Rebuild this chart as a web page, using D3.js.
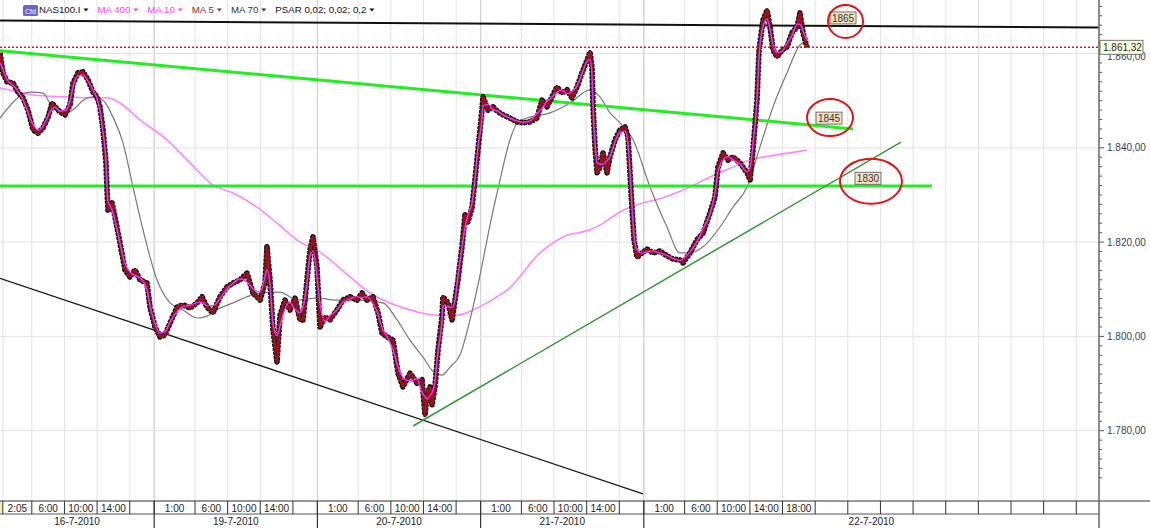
<!DOCTYPE html>
<html><head><meta charset="utf-8">
<script src="https://cdn.jsdelivr.net/npm/d3@7"></script>
<style>body{margin:0;background:#fff}svg{display:block}text{font-family:"Liberation Sans",Arial,sans-serif}</style>
</head><body><svg id="c" width="1150" height="528"></svg>
<script>
// ---------- DATA (hours counted in trading hours from 16-7-2010 01:00, 20 trading hours per day) ----------
const priceHours = [1.10,1.47,1.96,2.70,3.31,3.92,4.53,5.15,5.76,6.37,6.99,7.48,7.84,8.46,9.07,9.68,10.05,10.66,11.28,11.89,12.50,12.99,13.36,13.73,14.09,14.22,14.34,14.83,15.20,15.81,16.42,17.03,17.65,18.26,19.12,19.49,20.10,20.71,21.32,21.94,22.80,23.53,24.39,25.25,25.86,26.47,27.21,28.06,28.92,29.66,30.51,31.37,32.11,32.97,33.58,33.82,34.19,34.56,35.05,35.42,36.03,36.64,37.26,37.87,38.24,38.73,39.09,39.46,39.95,40.32,40.93,41.55,42.40,43.14,43.99,44.85,45.47,46.08,46.81,47.43,47.92,48.53,49.27,49.88,50.49,51.35,52.21,52.82,53.19,53.43,53.80,54.05,54.41,54.78,55.27,55.39,56.01,56.50,56.86,57.23,57.72,58.09,58.46,58.95,59.31,59.68,60.17,60.30,60.91,61.52,62.13,62.75,63.60,64.46,65.20,66.06,66.91,67.53,68.14,68.75,69.36,69.98,70.59,71.20,71.82,72.43,73.04,73.41,73.65,73.78,74.02,74.27,74.63,75.00,75.49,75.86,76.47,77.08,77.70,78.07,78.31,78.55,78.80,79.17,79.78,80.39,81.13,81.99,82.84,83.58,84.44,84.81,85.66,86.52,87.26,88.11,88.73,89.09,89.71,90.32,90.93,91.79,92.65,93.02,93.38,93.87,94.12,94.61,95.10,95.47,95.84,96.33,96.94,97.55,98.16,98.78,99.14,99.51,100.00];
const priceClose = [1860.1,1855.9,1854.0,1853.7,1851.8,1850.6,1848.0,1843.8,1843.1,1844.2,1846.5,1849.5,1848.7,1847.6,1847.0,1849.1,1853.7,1855.9,1856.1,1854.4,1851.8,1850.8,1848.7,1843.8,1836.8,1831.1,1826.8,1828.3,1825.3,1819.8,1814.1,1812.6,1814.1,1812.0,1811.3,1806.2,1802.0,1799.9,1800.3,1802.8,1806.2,1806.7,1806.0,1807.1,1808.4,1806.2,1805.0,1808.4,1810.5,1811.3,1812.0,1813.4,1809.2,1807.7,1811.3,1819.0,1812.0,1801.4,1794.6,1804.5,1807.7,1805.6,1808.1,1803.5,1803.5,1812.0,1818.3,1821.1,1814.7,1802.0,1804.1,1803.5,1805.6,1807.7,1808.4,1807.7,1809.2,1807.7,1808.4,1805.0,1800.7,1799.9,1799.2,1792.2,1789.3,1792.2,1790.1,1790.8,1783.3,1787.6,1789.3,1785.5,1789.3,1797.1,1804.1,1808.4,1807.1,1803.5,1807.7,1812.0,1819.0,1825.8,1824.3,1827.4,1833.2,1839.5,1848.0,1850.8,1848.0,1848.7,1847.6,1847.0,1846.3,1845.5,1845.3,1845.5,1846.3,1850.1,1848.7,1850.8,1852.9,1851.6,1852.3,1850.6,1852.9,1855.9,1858.6,1860.3,1857.1,1848.7,1840.2,1834.7,1835.9,1838.9,1834.7,1838.1,1841.7,1843.8,1844.4,1842.3,1834.7,1827.4,1820.5,1816.8,1817.7,1818.5,1817.7,1818.1,1817.1,1816.4,1816.2,1815.6,1817.7,1820.5,1821.9,1826.2,1829.6,1835.9,1838.9,1837.4,1838.1,1836.8,1834.7,1833.2,1839.5,1850.1,1860.7,1867.1,1869.2,1865.6,1860.7,1859.3,1860.7,1861.4,1864.4,1865.6,1868.6,1864.4,1861.3];

const ma70Hours = [1.10,4.78,6.37,7.60,9.07,10.30,11.28,12.50,13.73,14.95,16.18,17.40,18.63,20.34,21.94,23.53,25.25,26.47,28.06,29.66,31.37,32.97,35.42,37.50,39.95,42.40,45.22,48.04,49.76,51.35,52.94,54.41,55.27,56.25,57.48,58.70,59.93,61.15,62.38,63.60,64.58,66.06,68.51,70.96,73.41,74.63,75.86,77.08,78.68,80.76,82.84,84.44,85.66,87.26,89.34,90.93,92.65,94.24,95.84,97.55,99.14,99.75];
const ma70Values = [1846.3,1851.8,1851.6,1848.4,1847.4,1848.4,1850.1,1850.8,1850.1,1846.5,1841.0,1831.7,1822.6,1812.0,1807.1,1805.6,1803.9,1804.3,1806.0,1807.1,1808.4,1809.2,1809.4,1807.7,1808.1,1807.7,1807.7,1807.1,1803.5,1799.2,1795.6,1792.2,1791.8,1793.5,1796.1,1803.5,1813.0,1823.6,1833.2,1841.7,1845.5,1846.5,1847.4,1849.5,1852.3,1850.8,1847.4,1845.3,1841.7,1831.7,1823.2,1817.7,1817.7,1819.0,1823.2,1827.4,1831.7,1840.2,1848.7,1855.9,1861.8,1862.4];

const ma400Hours = [1.10,3.55,5.15,9.32,12.13,14.22,15.81,18.26,21.57,24.39,27.21,29.66,32.60,35.05,37.87,39.95,44.00,46.45,48.90,52.21,54.66,57.11,59.56,62.38,63.24,67.28,70.10,73.41,74.63,77.08,79.17,82.35,85.66,88.11,90.93,93.02,96.33,100.00];
const ma400Values = [1852.7,1851.8,1851.2,1850.8,1850.6,1850.6,1849.5,1845.9,1841.7,1836.8,1832.1,1830.4,1827.4,1824.0,1820.0,1818.3,1812.6,1809.2,1807.1,1805.2,1804.5,1804.5,1806.0,1808.8,1809.8,1817.7,1821.1,1822.6,1823.6,1826.4,1827.9,1829.4,1831.7,1833.8,1835.9,1837.4,1838.5,1839.5];

const lastPrice = 1861.32;

const trendNames  = ["resistance","upperGreen","flatGreen","lowerBlack","riseGreen"];
const trendHour1  = [1.10, 1.10, 1.10, 1.10, 51.72];
const trendValue1 = [1867.0, 1860.6, 1831.9, 1812.3, 1781.0];
const trendHour2  = [135.8, 105.64, 115.3, 79.90, 111.52];
const trendValue2 = [1865.5, 1844.0, 1831.9, 1766.6, 1841.2];

const noteLabels = ["1865","1845","1830"];
const noteHours  = [104.72, 102.82, 107.84];
const noteValues = [1866.8, 1846.4, 1832.9];

const yTickValues = [1780, 1800, 1820, 1840, 1860];
const cellStartHours = [1.45,5,9,13,17, 20,25,29,33,37, 40,45,49,53,57, 60,65,69,73,77, 80,85,89,93,97,101,105,109,113,117,121,125,129,133];
const cellLabels = ["2:05","6:00","10:00","14:00","", "1:00","6:00","10:00","14:00","", "1:00","6:00","10:00","14:00","", "1:00","6:00","10:00","14:00","", "1:00","6:00","10:00","14:00","18:00","","","","","","","","",""];
const dayStartHours = [0, 20, 40, 60, 80];
const dayLabels = ["16-7-2010","19-7-2010","20-7-2010","21-7-2010","22-7-2010"];
const legendLabels = ["NAS100.I","MA 400","MA 10","MA 5","MA 70","PSAR 0,02; 0,02; 0,2"];

// ---------- LAYOUT / STYLE ----------
const W = 1150, H = 528, axisX = 1099, plotBottom = 501;
const svg = d3.select("#c");
const x = d3.scaleLinear().domain([0, 136]).range([-9, -9 + 136 * 8.16]);
const y = d3.scaleLinear().domain([1760, 1860]).range([53.5 + 100 * 4.715, 53.5]);
const loc = d3.formatLocale({decimal: ",", thousands: ".", grouping: [3], currency: ["", ""]});
const fmt = loc.format(",.2f");

svg.append("rect").attr("width", W).attr("height", H).attr("fill", "#fff");
svg.append("defs").append("clipPath").attr("id", "plot")
  .append("rect").attr("x", 0).attr("y", 0).attr("width", axisX).attr("height", plotBottom);

// grid
const grid = svg.append("g");
const endH = x.invert(axisX);
cellStartHours.concat(dayStartHours).forEach(h => {
  const px = x(h);
  if (px > 1 && px < axisX - 1) {
    grid.append("line").attr("x1", px).attr("x2", px).attr("y1", 0).attr("y2", plotBottom)
      .attr("stroke", dayStartHours.includes(h) ? "#d2d2d2" : "#e2e2e2").attr("stroke-width", 1);
  }
});
yTickValues.forEach(v => {
  grid.append("line").attr("x1", 0).attr("x2", axisX).attr("y1", y(v)).attr("y2", y(v))
    .attr("stroke", "#e2e2e2").attr("stroke-width", 1);
});

const plot = svg.append("g").attr("clip-path", "url(#plot)");

// MA400 and MA70
const smooth = d3.line().x(d => x(d[0])).y(d => y(d[1])).curve(d3.curveMonotoneX);
plot.append("path").datum(d3.zip(ma400Hours, ma400Values)).attr("d", smooth)
  .attr("fill", "none").attr("stroke", "#ff86ff").attr("stroke-width", 1.6);
plot.append("path").datum(d3.zip(ma70Hours, ma70Values)).attr("d", smooth)
  .attr("fill", "none").attr("stroke", "#7a7a7a").attr("stroke-width", 1.2);

// trend lines
const trendStyle = {
  resistance: {c: "#111", w: 2},
  upperGreen: {c: "#22ee22", w: 3},
  flatGreen: {c: "#22ee22", w: 3},
  lowerBlack: {c: "#1a1a1a", w: 1.3},
  riseGreen: {c: "#2f9a2f", w: 1.5}
};
trendNames.forEach((n, i) => {
  plot.append("line")
    .attr("x1", x(trendHour1[i])).attr("y1", y(trendValue1[i]))
    .attr("x2", x(trendHour2[i])).attr("y2", y(trendValue2[i]))
    .attr("stroke", trendStyle[n].c).attr("stroke-width", trendStyle[n].w);
});

// price band
const pts = d3.zip(priceHours, priceClose);
const lin = d3.line().x(d => x(d[0])).y(d => y(d[1]));
plot.append("path").datum(pts).attr("d", lin).attr("fill", "none")
  .attr("stroke", "#111").attr("stroke-width", 5.6).attr("stroke-linejoin", "round")
  .attr("stroke-dasharray", "3,1");
plot.append("path").datum(pts).attr("d", lin).attr("fill", "none")
  .attr("stroke", "#111").attr("stroke-width", 4).attr("stroke-linejoin", "round");
plot.append("path").datum(pts).attr("d", lin).attr("fill", "none")
  .attr("stroke", "#3f8f3f").attr("stroke-width", 2.8).attr("stroke-linejoin", "round").attr("opacity", 0.6);
plot.append("path").datum(pts).attr("d", lin).attr("fill", "none")
  .attr("stroke", "#b8001a").attr("stroke-width", 2.2).attr("stroke-linejoin", "round");
const ma10 = pts.map((d, i) => [d[0], d3.mean(priceClose.slice(Math.max(0, i - 1), i + 2))]);
plot.append("path").datum(ma10).attr("d", lin.curve(d3.curveMonotoneX)).attr("fill", "none")
  .attr("stroke", "#ff2cff").attr("stroke-width", 1.4);

// last price line
plot.append("line").attr("x1", 0).attr("x2", axisX).attr("y1", y(lastPrice)).attr("y2", y(lastPrice))
  .attr("stroke", "#ee1111").attr("stroke-width", 1.5).attr("stroke-dasharray", "2,2");

// annotations
const noteR = [[17.5, 16.5], [23, 18.5], [31, 22.5]];
const noteOff = [[-2.5, -3.5], [-1, 0.5], [-3, -3]];
noteLabels.forEach((lab, i) => {
  const cx = x(noteHours[i]), cy = y(noteValues[i]);
  const bx = cx + noteOff[i][0], by = cy + noteOff[i][1];
  svg.append("rect").attr("x", bx - 13).attr("y", by - 6).attr("width", 26).attr("height", 12)
    .attr("fill", "#f6e2c2").attr("stroke", "#555").attr("stroke-width", 0.8);
  svg.append("text").attr("x", bx).attr("y", by).attr("dy", "0.36em").attr("text-anchor", "middle")
    .attr("font-size", 10).attr("fill", "#333").text(lab);
  svg.append("ellipse").attr("cx", cx).attr("cy", cy).attr("rx", noteR[i][0]).attr("ry", noteR[i][1])
    .attr("fill", "none").attr("stroke", "#e01515").attr("stroke-width", 2);
});

// right axis
const ax = svg.append("g");
d3.range(1770, 1872, 2).forEach(v => {
  const major = v % 20 === 0;
  ax.append("line").attr("x1", axisX).attr("x2", axisX + (major ? 5 : 3))
    .attr("y1", y(v)).attr("y2", y(v)).attr("stroke", "#555").attr("stroke-width", 1);
});
yTickValues.forEach(v => {
  // the 1.860,00 label sits behind the last-price box, as in the original
  ax.append("text").attr("x", axisX + 8).attr("y", y(v) + (v === 1860 ? 3 : 0)).attr("dy", "0.35em")
    .attr("font-size", 10).attr("fill", "#3a4452").text(fmt(v));
});
ax.append("rect").attr("x", axisX + 1).attr("y", y(lastPrice) - 7).attr("width", 43).attr("height", 14)
  .attr("fill", "#ffffe2").attr("stroke", "#555").attr("stroke-width", 0.8);
ax.append("text").attr("x", axisX + 4).attr("y", y(lastPrice)).attr("dy", "0.35em")
  .attr("font-size", 10).attr("fill", "#222").text(fmt(lastPrice));

// bottom axis
const bt = svg.append("g");
bt.append("rect").attr("x", 0).attr("y", plotBottom).attr("width", axisX).attr("height", H - plotBottom).attr("fill", "#fff");
bt.append("rect").attr("x", 0).attr("y", plotBottom).attr("width", x(cellStartHours[0])).attr("height", 13).attr("fill", "#f3eebd");
bt.append("line").attr("x1", 0).attr("x2", W).attr("y1", plotBottom).attr("y2", plotBottom).attr("stroke", "#333").attr("stroke-width", 1.2);
bt.append("line").attr("x1", 0).attr("x2", axisX).attr("y1", plotBottom + 13).attr("y2", plotBottom + 13).attr("stroke", "#555").attr("stroke-width", 1);
cellStartHours.forEach((h, i) => {
  const x0 = x(h);
  const nextH = i + 1 < cellStartHours.length ? cellStartHours[i + 1] : endH;
  const x1 = Math.min(x(nextH), axisX);
  bt.append("line").attr("x1", x0).attr("x2", x0).attr("y1", plotBottom).attr("y2", plotBottom + 13)
    .attr("stroke", "#333").attr("stroke-width", 1);
  if (cellLabels[i]) {
    bt.append("text").attr("x", (x0 + x1) / 2).attr("y", plotBottom + 7).attr("dy", "0.35em")
      .attr("text-anchor", "middle").attr("font-size", 10).attr("fill", "#222").text(cellLabels[i]);
  }
});
dayStartHours.forEach((h, i) => {
  const x0 = Math.max(0, x(h));
  const x1 = i + 1 < dayStartHours.length ? x(dayStartHours[i + 1]) : axisX;
  if (x(h) > 0) bt.append("line").attr("x1", x0).attr("x2", x0).attr("y1", plotBottom).attr("y2", H)
    .attr("stroke", "#333").attr("stroke-width", 1.2);
  bt.append("text").attr("x", (x0 + x1) / 2).attr("y", plotBottom + 20.5).attr("dy", "0.35em")
    .attr("text-anchor", "middle").attr("font-size", 10).attr("fill", "#222").text(dayLabels[i]);
});
svg.append("line").attr("x1", axisX).attr("x2", axisX).attr("y1", 0).attr("y2", H)
  .attr("stroke", "#666").attr("stroke-width", 1.5);

// legend
const lg = svg.append("g");
lg.append("rect").attr("x", 23).attr("y", 5).attr("width", 15).attr("height", 11).attr("rx", 1.5).attr("fill", "#6d63c9");
lg.append("text").attr("x", 30.5).attr("y", 13.5).attr("text-anchor", "middle").attr("font-size", 7).attr("fill", "#fff").text("Cfd");
const legendColors = ["#111", "#ff3cff", "#ff3cff", "#a02828", "#333", "#111"];
let lx = 39;
legendLabels.forEach((t, i) => {
  const tx = lg.append("text").attr("x", lx).attr("y", 13.2).attr("font-size", 9.7).attr("fill", legendColors[i]).text(t);
  const w = tx.node().getComputedTextLength();
  const ax0 = lx + w + 3;
  lg.append("path").attr("d", `M${ax0},8.5 L${ax0 + 5},8.5 L${ax0 + 2.5},11.5 Z`).attr("fill", legendColors[i]);
  lx = ax0 + 5 + 9;
});
</script>
</body></html>
